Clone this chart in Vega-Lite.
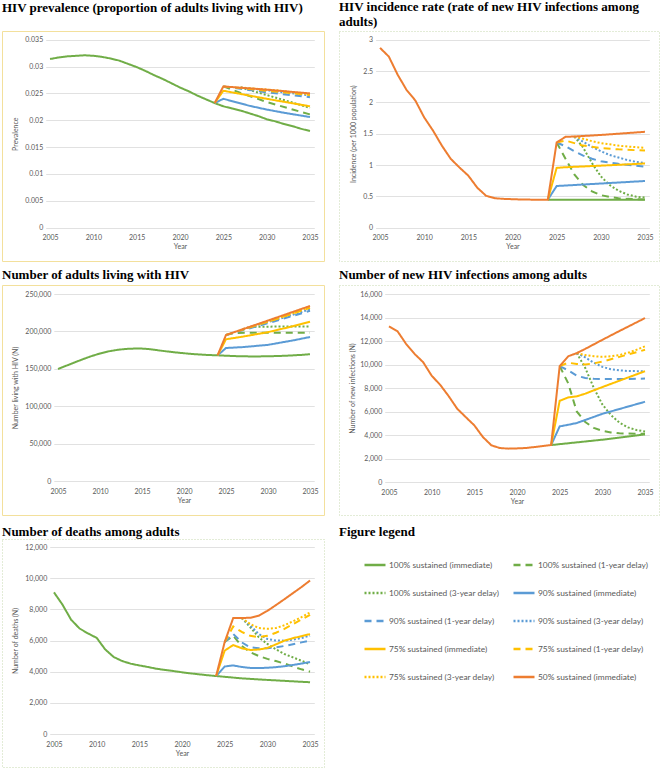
{
  "$schema": "https://vega.github.io/schema/vega-lite/v6.json",
  "padding": {"left": 1, "top": 0, "right": 0, "bottom": 0},
  "background": "white",
  "datasets": {
    "names": [
      {"s": "a", "name": "100% sustained (immediate)"},
      {"s": "b", "name": "100% sustained (1-year delay)"},
      {"s": "c", "name": "100% sustained (3-year delay)"},
      {"s": "d", "name": "90% sustained (immediate)"},
      {"s": "e", "name": "90% sustained (1-year delay)"},
      {"s": "f", "name": "90% sustained (3-year delay)"},
      {"s": "g", "name": "75% sustained (immediate)"},
      {"s": "h", "name": "75% sustained (1-year delay)"},
      {"s": "i", "name": "75% sustained (3-year delay)"},
      {"s": "j", "name": "50% sustained (immediate)"}
    ],
    "prev": [
      {"s":"a","t":2005,"v":0.0314},{"s":"a","t":2006,"v":0.0317},{"s":"a","t":2007,"v":0.0319},{"s":"a","t":2008,"v":0.0320},{"s":"a","t":2009,"v":0.0321},{"s":"a","t":2010,"v":0.0320},{"s":"a","t":2011,"v":0.0318},{"s":"a","t":2012,"v":0.0315},{"s":"a","t":2013,"v":0.0311},{"s":"a","t":2014,"v":0.0305},{"s":"a","t":2015,"v":0.0299},{"s":"a","t":2016,"v":0.0292},{"s":"a","t":2017,"v":0.0284},{"s":"a","t":2018,"v":0.0277},{"s":"a","t":2019,"v":0.0269},{"s":"a","t":2020,"v":0.0261},{"s":"a","t":2021,"v":0.0254},{"s":"a","t":2022,"v":0.0246},{"s":"a","t":2023,"v":0.0239},{"s":"a","t":2024,"v":0.0232},{"s":"a","t":2025,"v":0.0226},{"s":"a","t":2026,"v":0.0222},{"s":"a","t":2027,"v":0.0218},{"s":"a","t":2028,"v":0.0213},{"s":"a","t":2029,"v":0.0208},{"s":"a","t":2030,"v":0.0202},{"s":"a","t":2031,"v":0.0198},{"s":"a","t":2032,"v":0.0193},{"s":"a","t":2033,"v":0.0189},{"s":"a","t":2034,"v":0.0184},{"s":"a","t":2035,"v":0.0180},
      {"s":"b","t":2025,"v":0.0263},{"s":"b","t":2027,"v":0.0251},{"s":"b","t":2030,"v":0.0234},{"s":"b","t":2033,"v":0.0220},{"s":"b","t":2035,"v":0.0211},
      {"s":"c","t":2027,"v":0.0261},{"s":"c","t":2030,"v":0.0247},{"s":"c","t":2033,"v":0.0233},{"s":"c","t":2035,"v":0.0223},
      {"s":"d","t":2024,"v":0.0232},{"s":"d","t":2025,"v":0.0240},{"s":"d","t":2028,"v":0.0227},{"s":"d","t":2030,"v":0.0220},{"s":"d","t":2032,"v":0.0214},{"s":"d","t":2035,"v":0.0206},
      {"s":"e","t":2025,"v":0.0263},{"s":"e","t":2030,"v":0.0252},{"s":"e","t":2035,"v":0.0243},
      {"s":"f","t":2027,"v":0.0261},{"s":"f","t":2031,"v":0.0254},{"s":"f","t":2035,"v":0.0246},
      {"s":"g","t":2024,"v":0.0232},{"s":"g","t":2025,"v":0.0255},{"s":"g","t":2030,"v":0.0240},{"s":"g","t":2035,"v":0.0226},
      {"s":"h","t":2025,"v":0.0263},{"s":"h","t":2030,"v":0.0255},{"s":"h","t":2035,"v":0.0247},
      {"s":"i","t":2027,"v":0.0261},{"s":"i","t":2031,"v":0.0256},{"s":"i","t":2035,"v":0.0248},
      {"s":"j","t":2024,"v":0.0232},{"s":"j","t":2025,"v":0.0263},{"s":"j","t":2030,"v":0.0257},{"s":"j","t":2035,"v":0.0250}
    ],
    "inc": [
      {"s":"a","t":2024,"v":0.447},{"s":"a","t":2030,"v":0.447},{"s":"a","t":2035,"v":0.447},
      {"s":"b","t":2025,"v":1.36},{"s":"b","t":2026,"v":1.10},{"s":"b","t":2027,"v":0.85},{"s":"b","t":2028,"v":0.68},{"s":"b","t":2029,"v":0.58},{"s":"b","t":2030,"v":0.52},{"s":"b","t":2031,"v":0.49},{"s":"b","t":2032,"v":0.47},{"s":"b","t":2033,"v":0.46},{"s":"b","t":2035,"v":0.45},
      {"s":"c","t":2027,"v":1.455},{"s":"c","t":2028,"v":1.28},{"s":"c","t":2029,"v":1.03},{"s":"c","t":2030,"v":0.82},{"s":"c","t":2031,"v":0.68},{"s":"c","t":2032,"v":0.59},{"s":"c","t":2033,"v":0.53},{"s":"c","t":2034,"v":0.495},{"s":"c","t":2035,"v":0.48},
      {"s":"d","t":2024,"v":0.447},{"s":"d","t":2025,"v":0.665},{"s":"d","t":2030,"v":0.705},{"s":"d","t":2035,"v":0.745},
      {"s":"e","t":2025,"v":1.36},{"s":"e","t":2026,"v":1.30},{"s":"e","t":2027,"v":1.22},{"s":"e","t":2028,"v":1.15},{"s":"e","t":2029,"v":1.10},{"s":"e","t":2030,"v":1.06},{"s":"e","t":2032,"v":1.02},{"s":"e","t":2035,"v":0.975},
      {"s":"f","t":2027,"v":1.455},{"s":"f","t":2028,"v":1.37},{"s":"f","t":2029,"v":1.29},{"s":"f","t":2030,"v":1.22},{"s":"f","t":2031,"v":1.16},{"s":"f","t":2032,"v":1.12},{"s":"f","t":2033,"v":1.08},{"s":"f","t":2034,"v":1.05},{"s":"f","t":2035,"v":1.03},
      {"s":"g","t":2024,"v":0.447},{"s":"g","t":2025,"v":0.955},{"s":"g","t":2026,"v":0.965},{"s":"g","t":2030,"v":0.99},{"s":"g","t":2035,"v":1.025},
      {"s":"h","t":2025,"v":1.36},{"s":"h","t":2026,"v":1.39},{"s":"h","t":2027,"v":1.35},{"s":"h","t":2028,"v":1.31},{"s":"h","t":2030,"v":1.27},{"s":"h","t":2032,"v":1.25},{"s":"h","t":2035,"v":1.23},
      {"s":"i","t":2027,"v":1.455},{"s":"i","t":2028,"v":1.42},{"s":"i","t":2029,"v":1.38},{"s":"i","t":2030,"v":1.35},{"s":"i","t":2031,"v":1.33},{"s":"i","t":2032,"v":1.31},{"s":"i","t":2033,"v":1.295},{"s":"i","t":2034,"v":1.285},{"s":"i","t":2035,"v":1.275},
      {"s":"j","t":2005,"v":2.87},{"s":"j","t":2006,"v":2.73},{"s":"j","t":2007,"v":2.44},{"s":"j","t":2008,"v":2.20},{"s":"j","t":2009,"v":2.03},{"s":"j","t":2010,"v":1.76},{"s":"j","t":2011,"v":1.55},{"s":"j","t":2012,"v":1.31},{"s":"j","t":2013,"v":1.10},{"s":"j","t":2014,"v":0.96},{"s":"j","t":2015,"v":0.83},{"s":"j","t":2016,"v":0.64},{"s":"j","t":2017,"v":0.51},{"s":"j","t":2018,"v":0.47},{"s":"j","t":2019,"v":0.46},{"s":"j","t":2020,"v":0.455},{"s":"j","t":2021,"v":0.45},{"s":"j","t":2022,"v":0.448},{"s":"j","t":2023,"v":0.447},{"s":"j","t":2024,"v":0.447},{"s":"j","t":2025,"v":1.36},{"s":"j","t":2026,"v":1.45},{"s":"j","t":2027,"v":1.455},{"s":"j","t":2030,"v":1.48},{"s":"j","t":2035,"v":1.53}
    ],
    "plhiv": [
      {"s":"a","t":2005,"v":149700},{"s":"a","t":2006,"v":154200},{"s":"a","t":2007,"v":158600},{"s":"a","t":2008,"v":163000},{"s":"a","t":2009,"v":167000},{"s":"a","t":2010,"v":170500},{"s":"a","t":2011,"v":173300},{"s":"a","t":2012,"v":175200},{"s":"a","t":2013,"v":176500},{"s":"a","t":2014,"v":177000},{"s":"a","t":2015,"v":177000},{"s":"a","t":2016,"v":176200},{"s":"a","t":2017,"v":174600},{"s":"a","t":2018,"v":173200},{"s":"a","t":2019,"v":171900},{"s":"a","t":2020,"v":170800},{"s":"a","t":2021,"v":169800},{"s":"a","t":2022,"v":169000},{"s":"a","t":2023,"v":168400},{"s":"a","t":2024,"v":168000},{"s":"a","t":2025,"v":167500},{"s":"a","t":2026,"v":167000},{"s":"a","t":2028,"v":166500},{"s":"a","t":2030,"v":166700},{"s":"a","t":2032,"v":167400},{"s":"a","t":2034,"v":168600},{"s":"a","t":2035,"v":169500},
      {"s":"b","t":2025,"v":195200},{"s":"b","t":2026,"v":198000},{"s":"b","t":2030,"v":198200},{"s":"b","t":2035,"v":198200},
      {"s":"c","t":2027,"v":203000},{"s":"c","t":2028,"v":206000},{"s":"c","t":2031,"v":206500},{"s":"c","t":2035,"v":206500},
      {"s":"d","t":2024,"v":168000},{"s":"d","t":2025,"v":177800},{"s":"d","t":2027,"v":179000},{"s":"d","t":2030,"v":182000},{"s":"d","t":2033,"v":188000},{"s":"d","t":2035,"v":192500},
      {"s":"e","t":2025,"v":195200},{"s":"e","t":2030,"v":211000},{"s":"e","t":2035,"v":227500},
      {"s":"f","t":2027,"v":203000},{"s":"f","t":2031,"v":215500},{"s":"f","t":2035,"v":229500},
      {"s":"g","t":2024,"v":168000},{"s":"g","t":2025,"v":189500},{"s":"g","t":2027,"v":193000},{"s":"g","t":2030,"v":199000},{"s":"g","t":2033,"v":207000},{"s":"g","t":2035,"v":213000},
      {"s":"h","t":2025,"v":195200},{"s":"h","t":2030,"v":213000},{"s":"h","t":2035,"v":231500},
      {"s":"i","t":2027,"v":203000},{"s":"i","t":2031,"v":216500},{"s":"i","t":2035,"v":232500},
      {"s":"j","t":2024,"v":168000},{"s":"j","t":2025,"v":195200},{"s":"j","t":2030,"v":214500},{"s":"j","t":2035,"v":234000}
    ],
    "newinf": [
      {"s":"a","t":2024,"v":3145},{"s":"a","t":2030,"v":3600},{"s":"a","t":2035,"v":4050},
      {"s":"b","t":2025,"v":9860},{"s":"b","t":2026,"v":8400},{"s":"b","t":2027,"v":6000},{"s":"b","t":2028,"v":5100},{"s":"b","t":2029,"v":4600},{"s":"b","t":2030,"v":4350},{"s":"b","t":2031,"v":4220},{"s":"b","t":2032,"v":4150},{"s":"b","t":2033,"v":4120},{"s":"b","t":2035,"v":4100},
      {"s":"c","t":2027,"v":10970},{"s":"c","t":2028,"v":9700},{"s":"c","t":2029,"v":8000},{"s":"c","t":2030,"v":6600},{"s":"c","t":2031,"v":5700},{"s":"c","t":2032,"v":5050},{"s":"c","t":2033,"v":4650},{"s":"c","t":2034,"v":4420},{"s":"c","t":2035,"v":4300},
      {"s":"d","t":2024,"v":3145},{"s":"d","t":2025,"v":4730},{"s":"d","t":2026,"v":4870},{"s":"d","t":2027,"v":5020},{"s":"d","t":2030,"v":5800},{"s":"d","t":2035,"v":6830},
      {"s":"e","t":2025,"v":9860},{"s":"e","t":2026,"v":9500},{"s":"e","t":2027,"v":9050},{"s":"e","t":2028,"v":8850},{"s":"e","t":2029,"v":8780},{"s":"e","t":2030,"v":8760},{"s":"e","t":2032,"v":8760},{"s":"e","t":2035,"v":8800},
      {"s":"f","t":2027,"v":10970},{"s":"f","t":2028,"v":10600},{"s":"f","t":2029,"v":10150},{"s":"f","t":2030,"v":9800},{"s":"f","t":2031,"v":9600},{"s":"f","t":2032,"v":9500},{"s":"f","t":2033,"v":9450},{"s":"f","t":2035,"v":9420},
      {"s":"g","t":2024,"v":3145},{"s":"g","t":2025,"v":6910},{"s":"g","t":2026,"v":7200},{"s":"g","t":2027,"v":7290},{"s":"g","t":2028,"v":7520},{"s":"g","t":2030,"v":8080},{"s":"g","t":2035,"v":9430},
      {"s":"h","t":2025,"v":9860},{"s":"h","t":2026,"v":10150},{"s":"h","t":2027,"v":10050},{"s":"h","t":2028,"v":10000},{"s":"h","t":2029,"v":10100},{"s":"h","t":2030,"v":10250},{"s":"h","t":2031,"v":10450},{"s":"h","t":2032,"v":10650},{"s":"h","t":2033,"v":10850},{"s":"h","t":2034,"v":11050},{"s":"h","t":2035,"v":11250},
      {"s":"i","t":2027,"v":10970},{"s":"i","t":2028,"v":10800},{"s":"i","t":2029,"v":10700},{"s":"i","t":2030,"v":10650},{"s":"i","t":2031,"v":10700},{"s":"i","t":2032,"v":10800},{"s":"i","t":2033,"v":11000},{"s":"i","t":2034,"v":11250},{"s":"i","t":2035,"v":11550},
      {"s":"j","t":2005,"v":13250},{"s":"j","t":2006,"v":12830},{"s":"j","t":2007,"v":11760},{"s":"j","t":2008,"v":10900},{"s":"j","t":2009,"v":10200},{"s":"j","t":2010,"v":9050},{"s":"j","t":2011,"v":8270},{"s":"j","t":2012,"v":7300},{"s":"j","t":2013,"v":6230},{"s":"j","t":2014,"v":5520},{"s":"j","t":2015,"v":4820},{"s":"j","t":2016,"v":3830},{"s":"j","t":2017,"v":3120},{"s":"j","t":2018,"v":2890},{"s":"j","t":2019,"v":2840},{"s":"j","t":2020,"v":2860},{"s":"j","t":2021,"v":2890},{"s":"j","t":2022,"v":2970},{"s":"j","t":2023,"v":3060},{"s":"j","t":2024,"v":3145},{"s":"j","t":2025,"v":9860},{"s":"j","t":2026,"v":10700},{"s":"j","t":2027,"v":10970},{"s":"j","t":2028,"v":11330},{"s":"j","t":2030,"v":12100},{"s":"j","t":2032,"v":12850},{"s":"j","t":2035,"v":13950}
    ],
    "deaths": [
      {"s":"a","t":2005,"v":9090},{"s":"a","t":2006,"v":8300},{"s":"a","t":2007,"v":7340},{"s":"a","t":2008,"v":6770},{"s":"a","t":2009,"v":6450},{"s":"a","t":2010,"v":6170},{"s":"a","t":2011,"v":5430},{"s":"a","t":2012,"v":4940},{"s":"a","t":2013,"v":4680},{"s":"a","t":2014,"v":4510},{"s":"a","t":2015,"v":4400},{"s":"a","t":2016,"v":4300},{"s":"a","t":2017,"v":4190},{"s":"a","t":2018,"v":4110},{"s":"a","t":2019,"v":4040},{"s":"a","t":2020,"v":3960},{"s":"a","t":2021,"v":3890},{"s":"a","t":2022,"v":3830},{"s":"a","t":2023,"v":3770},{"s":"a","t":2024,"v":3720},{"s":"a","t":2025,"v":3670},{"s":"a","t":2027,"v":3570},{"s":"a","t":2030,"v":3470},{"s":"a","t":2033,"v":3380},{"s":"a","t":2035,"v":3320},
      {"s":"b","t":2025,"v":5900},{"s":"b","t":2026,"v":6300},{"s":"b","t":2027,"v":5650},{"s":"b","t":2028,"v":5250},{"s":"b","t":2029,"v":5000},{"s":"b","t":2030,"v":4820},{"s":"b","t":2031,"v":4680},{"s":"b","t":2032,"v":4520},{"s":"b","t":2033,"v":4330},{"s":"b","t":2034,"v":4150},{"s":"b","t":2035,"v":4000},
      {"s":"c","t":2027,"v":7444},{"s":"c","t":2028,"v":6850},{"s":"c","t":2029,"v":6200},{"s":"c","t":2030,"v":5780},{"s":"c","t":2031,"v":5430},{"s":"c","t":2032,"v":5130},{"s":"c","t":2033,"v":4920},{"s":"c","t":2034,"v":4700},{"s":"c","t":2035,"v":4470},
      {"s":"d","t":2024,"v":3720},{"s":"d","t":2025,"v":4330},{"s":"d","t":2026,"v":4400},{"s":"d","t":2027,"v":4300},{"s":"d","t":2028,"v":4240},{"s":"d","t":2029,"v":4230},{"s":"d","t":2030,"v":4250},{"s":"d","t":2031,"v":4290},{"s":"d","t":2032,"v":4350},{"s":"d","t":2033,"v":4430},{"s":"d","t":2034,"v":4520},{"s":"d","t":2035,"v":4620},
      {"s":"e","t":2025,"v":5900},{"s":"e","t":2026,"v":6420},{"s":"e","t":2027,"v":5880},{"s":"e","t":2028,"v":5560},{"s":"e","t":2029,"v":5500},{"s":"e","t":2030,"v":5500},{"s":"e","t":2031,"v":5560},{"s":"e","t":2032,"v":5650},{"s":"e","t":2033,"v":5760},{"s":"e","t":2034,"v":5880},{"s":"e","t":2035,"v":6000},
      {"s":"f","t":2027,"v":7444},{"s":"f","t":2028,"v":6950},{"s":"f","t":2029,"v":6420},{"s":"f","t":2030,"v":6100},{"s":"f","t":2031,"v":6000},{"s":"f","t":2032,"v":5990},{"s":"f","t":2033,"v":6050},{"s":"f","t":2034,"v":6160},{"s":"f","t":2035,"v":6310},
      {"s":"g","t":2024,"v":3720},{"s":"g","t":2025,"v":5350},{"s":"g","t":2026,"v":5710},{"s":"g","t":2027,"v":5500},{"s":"g","t":2028,"v":5390},{"s":"g","t":2029,"v":5420},{"s":"g","t":2030,"v":5520},{"s":"g","t":2031,"v":5750},{"s":"g","t":2032,"v":5990},{"s":"g","t":2033,"v":6150},{"s":"g","t":2034,"v":6280},{"s":"g","t":2035,"v":6410},
      {"s":"h","t":2025,"v":5900},{"s":"h","t":2026,"v":6900},{"s":"h","t":2027,"v":6550},{"s":"h","t":2028,"v":6300},{"s":"h","t":2029,"v":6220},{"s":"h","t":2030,"v":6300},{"s":"h","t":2031,"v":6500},{"s":"h","t":2032,"v":6750},{"s":"h","t":2033,"v":7050},{"s":"h","t":2034,"v":7350},{"s":"h","t":2035,"v":7650},
      {"s":"i","t":2027,"v":7444},{"s":"i","t":2028,"v":7050},{"s":"i","t":2029,"v":6800},{"s":"i","t":2030,"v":6750},{"s":"i","t":2031,"v":6800},{"s":"i","t":2032,"v":6980},{"s":"i","t":2033,"v":7230},{"s":"i","t":2034,"v":7500},{"s":"i","t":2035,"v":7800},
      {"s":"j","t":2024,"v":3720},{"s":"j","t":2025,"v":5900},{"s":"j","t":2026,"v":7444},{"s":"j","t":2027,"v":7444},{"s":"j","t":2028,"v":7460},{"s":"j","t":2029,"v":7590},{"s":"j","t":2030,"v":7900},{"s":"j","t":2031,"v":8270},{"s":"j","t":2032,"v":8650},{"s":"j","t":2033,"v":9040},{"s":"j","t":2034,"v":9430},{"s":"j","t":2035,"v":9850}
    ]
  },
  "columns": 2,
  "spacing": {"row": 24, "column": 15},
  "bounds": "flush",
  "concat": [
    {
      "title": {"text": "HIV prevalence (proportion of adults living with HIV)", "offset": 16},
      "width": 322, "height": 230,
      "view": {"stroke": "#f3e09c", "strokeWidth": 1},
      "data": {"name": "prev"},
      "transform": [{"lookup": "s", "from": {"data": {"name": "names"}, "key": "s", "fields": ["name"]}}],
      "mark": {"type": "line", "strokeWidth": 2},
      "encoding": {
        "x": {"field": "t", "type": "quantitative", "scale": {"domain": [2004.5, 2035.5], "range": [43.7, 312.3], "nice": false, "zero": false},
              "axis": {"values": [2005, 2010, 2015, 2020, 2025, 2030, 2035], "format": "d", "title": "Year", "offset": -33.3}},
        "y": {"field": "v", "type": "quantitative", "scale": {"domain": [0, 0.035], "range": [196.7, 8.7], "nice": false},
              "axis": {"values": [0, 0.005, 0.01, 0.015, 0.02, 0.025, 0.03, 0.035], "format": "~g", "title": "Prevalence", "offset": -43.7}},
        "color": {"field": "name", "type": "nominal", "title": null,
                  "scale": {"domain": ["100% sustained (immediate)", "100% sustained (1-year delay)", "100% sustained (3-year delay)", "90% sustained (immediate)", "90% sustained (1-year delay)", "90% sustained (3-year delay)", "75% sustained (immediate)", "75% sustained (1-year delay)", "75% sustained (3-year delay)", "50% sustained (immediate)"],
                            "range": ["#70ad47", "#70ad47", "#70ad47", "#5b9bd5", "#5b9bd5", "#5b9bd5", "#ffc000", "#ffc000", "#ffc000", "#ed7d31"]}},
        "strokeDash": {"field": "name", "type": "nominal", "title": null,
                  "scale": {"domain": ["100% sustained (immediate)", "100% sustained (1-year delay)", "100% sustained (3-year delay)", "90% sustained (immediate)", "90% sustained (1-year delay)", "90% sustained (3-year delay)", "75% sustained (immediate)", "75% sustained (1-year delay)", "75% sustained (3-year delay)", "50% sustained (immediate)"],
                            "range": [[1, 0], [7, 5], [2, 2], [1, 0], [7, 5], [2, 2], [1, 0], [7, 5], [2, 2], [1, 0]]}}
      }
    },
    {
      "title": {"text": ["HIV incidence rate (rate of new HIV infections among", "adults)"], "offset": 2},
      "width": 320, "height": 230,
      "view": {"stroke": "#c6d9ae", "strokeWidth": 1, "strokeDash": [1, 2]},
      "data": {"name": "inc"},
      "transform": [{"lookup": "s", "from": {"data": {"name": "names"}, "key": "s", "fields": ["name"]}}],
      "mark": {"type": "line", "strokeWidth": 2},
      "encoding": {
        "x": {"field": "t", "type": "quantitative", "scale": {"domain": [2004.5, 2035.5], "range": [36.6, 310.4], "nice": false, "zero": false},
              "axis": {"values": [2005, 2010, 2015, 2020, 2025, 2030, 2035], "format": "d", "title": "Year", "offset": -33.3}},
        "y": {"field": "v", "type": "quantitative", "scale": {"domain": [0, 3], "range": [196.7, 8.7], "nice": false},
              "axis": {"values": [0, 0.5, 1, 1.5, 2, 2.5, 3], "format": "~g", "title": "Incidence (per 1000 population)", "offset": -36.6}},
        "color": {"field": "name", "type": "nominal", "title": null,
                  "scale": {"domain": ["100% sustained (immediate)", "100% sustained (1-year delay)", "100% sustained (3-year delay)", "90% sustained (immediate)", "90% sustained (1-year delay)", "90% sustained (3-year delay)", "75% sustained (immediate)", "75% sustained (1-year delay)", "75% sustained (3-year delay)", "50% sustained (immediate)"],
                            "range": ["#70ad47", "#70ad47", "#70ad47", "#5b9bd5", "#5b9bd5", "#5b9bd5", "#ffc000", "#ffc000", "#ffc000", "#ed7d31"]}},
        "strokeDash": {"field": "name", "type": "nominal", "title": null,
                  "scale": {"domain": ["100% sustained (immediate)", "100% sustained (1-year delay)", "100% sustained (3-year delay)", "90% sustained (immediate)", "90% sustained (1-year delay)", "90% sustained (3-year delay)", "75% sustained (immediate)", "75% sustained (1-year delay)", "75% sustained (3-year delay)", "50% sustained (immediate)"],
                            "range": [[1, 0], [7, 5], [2, 2], [1, 0], [7, 5], [2, 2], [1, 0], [7, 5], [2, 2], [1, 0]]}}
      }
    },
    {
      "title": {"text": "Number of adults living with HIV", "offset": 3},
      "width": 322, "height": 230,
      "view": {"stroke": "#f3e09c", "strokeWidth": 1},
      "data": {"name": "plhiv"},
      "transform": [{"lookup": "s", "from": {"data": {"name": "names"}, "key": "s", "fields": ["name"]}}],
      "mark": {"type": "line", "strokeWidth": 2},
      "encoding": {
        "x": {"field": "t", "type": "quantitative", "scale": {"domain": [2004.5, 2035.5], "range": [51.8, 312.2], "nice": false, "zero": false},
              "axis": {"values": [2005, 2010, 2015, 2020, 2025, 2030, 2035], "format": "d", "title": "Year", "offset": -34}},
        "y": {"field": "v", "type": "quantitative", "scale": {"domain": [0, 250000], "range": [196, 9], "nice": false},
              "axis": {"values": [0, 50000, 100000, 150000, 200000, 250000], "format": ",d", "title": "Number living with HIV (N)", "offset": -51.8}},
        "color": {"field": "name", "type": "nominal", "title": null,
                  "scale": {"domain": ["100% sustained (immediate)", "100% sustained (1-year delay)", "100% sustained (3-year delay)", "90% sustained (immediate)", "90% sustained (1-year delay)", "90% sustained (3-year delay)", "75% sustained (immediate)", "75% sustained (1-year delay)", "75% sustained (3-year delay)", "50% sustained (immediate)"],
                            "range": ["#70ad47", "#70ad47", "#70ad47", "#5b9bd5", "#5b9bd5", "#5b9bd5", "#ffc000", "#ffc000", "#ffc000", "#ed7d31"]}},
        "strokeDash": {"field": "name", "type": "nominal", "title": null,
                  "scale": {"domain": ["100% sustained (immediate)", "100% sustained (1-year delay)", "100% sustained (3-year delay)", "90% sustained (immediate)", "90% sustained (1-year delay)", "90% sustained (3-year delay)", "75% sustained (immediate)", "75% sustained (1-year delay)", "75% sustained (3-year delay)", "50% sustained (immediate)"],
                            "range": [[1, 0], [7, 5], [2, 2], [1, 0], [7, 5], [2, 2], [1, 0], [7, 5], [2, 2], [1, 0]]}}
      }
    },
    {
      "title": {"text": "Number of new HIV infections among adults", "offset": 3},
      "width": 320, "height": 230,
      "view": {"stroke": "#c6d9ae", "strokeWidth": 1, "strokeDash": [1, 2]},
      "data": {"name": "newinf"},
      "transform": [{"lookup": "s", "from": {"data": {"name": "names"}, "key": "s", "fields": ["name"]}}],
      "mark": {"type": "line", "strokeWidth": 2},
      "encoding": {
        "x": {"field": "t", "type": "quantitative", "scale": {"domain": [2004.5, 2035.5], "range": [45.7, 310.3], "nice": false, "zero": false},
              "axis": {"values": [2005, 2010, 2015, 2020, 2025, 2030, 2035], "format": "d", "title": "Year", "offset": -33}},
        "y": {"field": "v", "type": "quantitative", "scale": {"domain": [0, 16000], "range": [197, 9], "nice": false},
              "axis": {"values": [0, 2000, 4000, 6000, 8000, 10000, 12000, 14000, 16000], "format": ",d", "title": "Number of new infections (N)", "offset": -45.7, "titlePadding": 4}},
        "color": {"field": "name", "type": "nominal", "title": null,
                  "scale": {"domain": ["100% sustained (immediate)", "100% sustained (1-year delay)", "100% sustained (3-year delay)", "90% sustained (immediate)", "90% sustained (1-year delay)", "90% sustained (3-year delay)", "75% sustained (immediate)", "75% sustained (1-year delay)", "75% sustained (3-year delay)", "50% sustained (immediate)"],
                            "range": ["#70ad47", "#70ad47", "#70ad47", "#5b9bd5", "#5b9bd5", "#5b9bd5", "#ffc000", "#ffc000", "#ffc000", "#ed7d31"]}},
        "strokeDash": {"field": "name", "type": "nominal", "title": null,
                  "scale": {"domain": ["100% sustained (immediate)", "100% sustained (1-year delay)", "100% sustained (3-year delay)", "90% sustained (immediate)", "90% sustained (1-year delay)", "90% sustained (3-year delay)", "75% sustained (immediate)", "75% sustained (1-year delay)", "75% sustained (3-year delay)", "50% sustained (immediate)"],
                            "range": [[1, 0], [7, 5], [2, 2], [1, 0], [7, 5], [2, 2], [1, 0], [7, 5], [2, 2], [1, 0]]}}
      }
    },
    {
      "title": {"text": "Number of deaths among adults", "offset": 0},
      "width": 322, "height": 228,
      "view": {"stroke": "#c6d9ae", "strokeWidth": 1, "strokeDash": [1, 2]},
      "data": {"name": "deaths"},
      "transform": [{"lookup": "s", "from": {"data": {"name": "names"}, "key": "s", "fields": ["name"]}}],
      "mark": {"type": "line", "strokeWidth": 2},
      "encoding": {
        "x": {"field": "t", "type": "quantitative", "scale": {"domain": [2004.5, 2035.5], "range": [47.7, 312.3], "nice": false, "zero": false},
              "axis": {"values": [2005, 2010, 2015, 2020, 2025, 2030, 2035], "format": "d", "title": "Year", "offset": -33}},
        "y": {"field": "v", "type": "quantitative", "scale": {"domain": [0, 12000], "range": [195, 8], "nice": false},
              "axis": {"values": [0, 2000, 4000, 6000, 8000, 10000, 12000], "format": ",d", "title": "Number of deaths (N)", "offset": -47.7}},
        "color": {"field": "name", "type": "nominal", "title": null,
                  "scale": {"domain": ["100% sustained (immediate)", "100% sustained (1-year delay)", "100% sustained (3-year delay)", "90% sustained (immediate)", "90% sustained (1-year delay)", "90% sustained (3-year delay)", "75% sustained (immediate)", "75% sustained (1-year delay)", "75% sustained (3-year delay)", "50% sustained (immediate)"],
                            "range": ["#70ad47", "#70ad47", "#70ad47", "#5b9bd5", "#5b9bd5", "#5b9bd5", "#ffc000", "#ffc000", "#ffc000", "#ed7d31"]}},
        "strokeDash": {"field": "name", "type": "nominal", "title": null,
                  "scale": {"domain": ["100% sustained (immediate)", "100% sustained (1-year delay)", "100% sustained (3-year delay)", "90% sustained (immediate)", "90% sustained (1-year delay)", "90% sustained (3-year delay)", "75% sustained (immediate)", "75% sustained (1-year delay)", "75% sustained (3-year delay)", "50% sustained (immediate)"],
                            "range": [[1, 0], [7, 5], [2, 2], [1, 0], [7, 5], [2, 2], [1, 0], [7, 5], [2, 2], [1, 0]]}}
      }
    },
    {
      "title": {"text": "Figure legend", "offset": 0},
      "width": 320, "height": 228,
      "view": {"stroke": null},
      "data": {"values": []},
      "mark": "text",
      "encoding": {}
    }
  ],
  "config": {
    "view": {"stroke": null},
    "font": "Lato",
    "title": {"font": "Liberation Serif", "fontSize": 13, "fontWeight": "bold", "color": "#000000", "anchor": "start", "frame": "group", "lineHeight": 15},
    "axis": {"domain": false, "ticks": false, "labelFont": "Lato", "labelFontSize": 7, "labelColor": "#595959", "titleFont": "Lato", "titleFontSize": 7, "titleFontWeight": "normal", "titleColor": "#595959", "gridColor": "#d9d9d9", "gridWidth": 0.8, "labelFlush": false, "labelOverlap": false},
    "axisX": {"grid": false, "labelPadding": 6, "titlePadding": 2},
    "axisY": {"grid": true, "labelPadding": 3, "titlePadding": 6},
    "legend": {"orient": "none", "legendX": 361, "legendY": 522, "direction": "horizontal", "columns": 2, "symbolType": "stroke", "symbolSize": 441, "symbolStrokeWidth": 2.5, "labelFont": "Lato", "labelFontSize": 8.4, "labelColor": "#595959", "labelOffset": 2, "rowPadding": 11, "columnPadding": 8, "padding": 0, "labelLimit": 0}
  }
}
